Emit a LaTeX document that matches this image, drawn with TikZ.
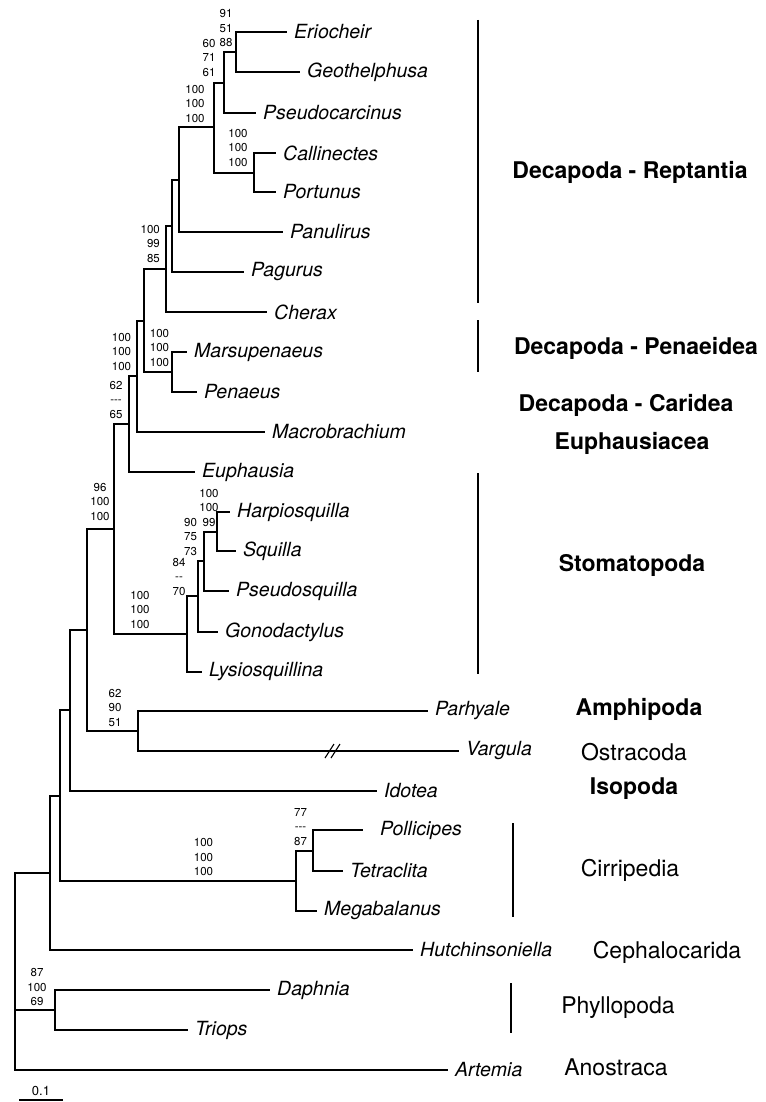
\documentclass[tikz,border=0pt]{standalone}
\usepackage{fontspec}
\setmainfont{TeX Gyre Heros}

\tikzset{
  leaf/.style={anchor=west,inner xsep=7pt,inner ysep=0pt,font=\fontsize{19.5}{19.5}\selectfont\itshape},
  boot/.style={align=center,inner sep=0pt,font=\fontsize{11.5}{14.5}\selectfont},
  grpb/.style={inner sep=0pt,font=\fontsize{23}{23}\selectfont\bfseries},
  grp/.style={inner sep=0pt,font=\fontsize{23}{23}\selectfont},
  br/.style={line width=1.5pt},
  bar/.style={line width=1.3pt},
}

\begin{document}
\begin{tikzpicture}[x=1pt,y=-1pt]
\useasboundingbox (0,0) rectangle (765,1102);

% taxa
\node[leaf] (erio) at (287,32) {Eriocheir};
\node[leaf] (geot) at (300,72) {Geothelphusa};
\node[leaf] (pseu) at (256,113) {Pseudocarcinus};
\node[leaf] (call) at (276,153) {Callinectes};
\node[leaf] (port) at (276,192) {Portunus};
\node[leaf] (panu) at (283,232) {Panulirus};
\node[leaf] (pagu) at (244,272) {Pagurus};
\node[leaf] (cher) at (267,312) {Cherax};
\node[leaf] (mars) at (187,352) {Marsupenaeus};
\node[leaf] (pena) at (197,392) {Penaeus};
\node[leaf] (macr) at (265,432) {Macrobrachium};
\node[leaf] (euph) at (195,472) {Euphausia};
\node[leaf] (harp) at (230,512) {Harpiosquilla};
\node[leaf] (squi) at (236,551) {Squilla};
\node[leaf] (psqu) at (229,591) {Pseudosquilla};
\node[leaf] (gono) at (218,632) {Gonodactylus};
\node[leaf] (lysi) at (202,672) {Lysiosquillina};
\node[leaf] (parh) at (428,711) {Parhyale};
\node[leaf] (varg) at (459,751) {Vargula};
\node[leaf] (idot) at (377,791) {Idotea};
\node[leaf,inner xsep=17pt] (poll) at (363,830) {Pollicipes};
\node[leaf] (tetr) at (343,871) {Tetraclita};
\node[leaf] (mega) at (317,911) {Megabalanus};
\node[leaf] (hutc) at (413,950) {Hutchinsoniella};
\node[leaf] (daph) at (270,990) {Daphnia};
\node[leaf] (trio) at (188,1030) {Triops};
\node[leaf] (arte) at (448,1070) {Artemia};

% internal nodes
\coordinate (nEG) at (236,52);
\coordinate (nEGP) at (224,83);
\coordinate (nCP) at (254,173);
\coordinate (nBra) at (214,127);
\coordinate (nPan) at (179,180);
\coordinate (nPag) at (172,226);
\coordinate (nRep) at (166,269);
\coordinate (nPen) at (172,372);
\coordinate (nDA) at (144,321);
\coordinate (nDec) at (137,376);
\coordinate (nEuc) at (129,424);
\coordinate (nHS) at (217,532);
\coordinate (nPs) at (204,561);
\coordinate (nGo) at (198,596);
\coordinate (nSto) at (187,634);
\coordinate (nMal) at (114,529);
\coordinate (nPV) at (138,731);
\coordinate (nE) at (87,630);
\coordinate (nF) at (70,710);
\coordinate (nPT) at (313,851);
\coordinate (nCir) at (296,881);
\coordinate (nG) at (60,796);
\coordinate (nH) at (50,873);
\coordinate (nPhy) at (55,1010);
\coordinate (root) at (15,1010);

% branches
\draw[br] (nEG) |- (erio.west) (nEG) |- (geot.west);
\draw[br] (nEGP) |- (nEG) (nEGP) |- (pseu.west);
\draw[br] (nCP) |- (call.west) (nCP) |- (port.west);
\draw[br] (nBra) |- (nEGP) (nBra) |- (nCP);
\draw[br] (nPan) |- (nBra) (nPan) |- (panu.west);
\draw[br] (nPag) |- (nPan) (nPag) |- (pagu.west);
\draw[br] (nRep) |- (nPag) (nRep) |- (cher.west);
\draw[br] (nPen) |- (mars.west) (nPen) |- (pena.west);
\draw[br] (nDA) |- (nRep) (nDA) |- (nPen);
\draw[br] (nDec) |- (nDA) (nDec) |- (macr.west);
\draw[br] (nEuc) |- (nDec) (nEuc) |- (euph.west);
\draw[br] (nHS) |- (harp.west) (nHS) |- (squi.west);
\draw[br] (nPs) |- (nHS) (nPs) |- (psqu.west);
\draw[br] (nGo) |- (nPs) (nGo) |- (gono.west);
\draw[br] (nSto) |- (nGo) (nSto) |- (lysi.west);
\draw[br] (nMal) |- (nEuc) (nMal) |- (nSto);
\draw[br] (nPV) |- (parh.west) (nPV) |- (varg.west);
\draw[br] (nE) |- (nMal) (nE) |- (nPV);
\draw[br] (nF) |- (nE) (nF) |- (idot.west);
\draw[br] (nPT) |- (poll.west) (nPT) |- (tetr.west);
\draw[br] (nCir) |- (nPT) (nCir) |- (mega.west);
\draw[br] (nG) |- (nF) (nG) |- (nCir);
\draw[br] (nH) |- (nG) (nH) |- (hutc.west);
\draw[br] (nPhy) |- (daph.west) (nPhy) |- (trio.west);
\draw[br] (root) |- (nH) (root) -- (nPhy) (root) |- (arte.west);

% break on the Vargula branch
\draw[line width=1.1pt] (325,758) -- (334,744) (331,758) -- (340,744);

% support values
\node[boot] (s1) at (226,28.5) {91\\51\\88};
\node[boot] (s2) at (209,58) {60\\71\\61};
\node[boot] (s3) at (195,104) {100\\100\\100};
\node[boot] (s4) at (238,148) {100\\100\\100};
\node[boot,align=right,anchor=east] (s5) at (160,244) {100\\99\\85};
\node[boot] (s6) at (159.5,348) {100\\100\\100};
\node[boot] (s7) at (121.5,352) {100\\100\\100};
\node[boot] (s8) at (116,400) {62\\{-}{-}{-}\\65};
\node[boot] (s9) at (100,502) {96\\100\\100};
\node[boot] (s10) at (209,508) {100\\100\\99};
\node[boot] (s11) at (190.5,537) {90\\75\\73};
\node[boot] (s12) at (179,577) {84\\{-}{-}\\70};
\node[boot] (s13) at (140,610) {100\\100\\100};
\node[boot] (s14) at (115,708) {62\\90\\51};
\node[boot] (s15) at (300.5,827) {77\\{-}{-}{-}\\87};
\node[boot] (s16) at (203.5,857) {100\\100\\100};
\node[boot] (s17) at (37,987) {87\\100\\69};

% groups
\draw[bar] (478,20) -- (478,303);
\draw[bar] (478,320) -- (478,372);
\draw[bar] (478,473) -- (478,674);
\draw[bar] (513,823) -- (513,917);
\draw[bar] (511,983) -- (511,1033);
\node[grpb] (g1) at (630,172) {Decapoda - Reptantia};
\node[grpb] (g2) at (636,348) {Decapoda - Penaeidea};
\node[grpb] (g3) at (626,405) {Decapoda - Caridea};
\node[grpb] (g4) at (632,443) {Euphausiacea};
\node[grpb] (g5) at (632,565) {Stomatopoda};
\node[grpb] (g6) at (639,709) {Amphipoda};
\node[grp] (g7) at (634,752) {Ostracoda};
\node[grpb] (g8) at (634,789) {Isopoda};
\node[grp] (g9) at (630,870) {Cirripedia};
\node[grp] (g10) at (667,952) {Cephalocarida};
\node[grp] (g11) at (618,1008) {Phyllopoda};
\node[grp] (g12) at (616,1067) {Anostraca};

% scale
\coordinate (sbl) at (19,1100);
\coordinate (sbr) at (63,1100);
\draw[line width=1.2pt] (sbl) -- (sbr);
\node[inner sep=0pt,font=\fontsize{13}{13}\selectfont] (sbt) at (41,1091) {0.1};
\end{tikzpicture}
\end{document}
